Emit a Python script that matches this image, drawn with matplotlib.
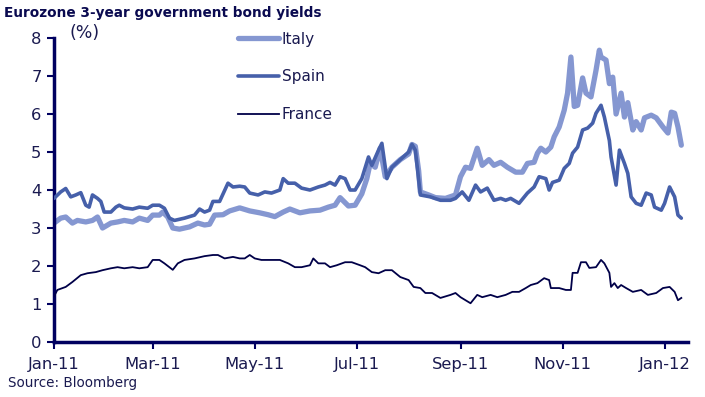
import matplotlib
matplotlib.use('Agg')
from matplotlib import pyplot as plt
import matplotlib.dates as mdates
import pandas as pd

# Italy 3y yields (%)
italy_dates = ['2011-01-01', '2011-01-05', '2011-01-08', '2011-01-12', '2011-01-15', '2011-01-20',
               '2011-01-24', '2011-01-27', '2011-01-30', '2011-02-04', '2011-02-08', '2011-02-12',
               '2011-02-17', '2011-02-21', '2011-02-26', '2011-03-01', '2011-03-05', '2011-03-07',
               '2011-03-10', '2011-03-13', '2011-03-17', '2011-03-23', '2011-03-28', '2011-04-01',
               '2011-04-04', '2011-04-07', '2011-04-12', '2011-04-16', '2011-04-22', '2011-04-28',
               '2011-05-04', '2011-05-09', '2011-05-13', '2011-05-18', '2011-05-22', '2011-05-28',
               '2011-06-03', '2011-06-09', '2011-06-14', '2011-06-18', '2011-06-21', '2011-06-26',
               '2011-06-30', '2011-07-04', '2011-07-07', '2011-07-09', '2011-07-12', '2011-07-15',
               '2011-07-18', '2011-07-22', '2011-07-27', '2011-08-01', '2011-08-03', '2011-08-05',
               '2011-08-07', '2011-08-08', '2011-08-13', '2011-08-17', '2011-08-23', '2011-08-29',
               '2011-09-01', '2011-09-04', '2011-09-07', '2011-09-11', '2011-09-14', '2011-09-18',
               '2011-09-21', '2011-09-25', '2011-09-29', '2011-10-04', '2011-10-08', '2011-10-11',
               '2011-10-15', '2011-10-17', '2011-10-19', '2011-10-22', '2011-10-25', '2011-10-27',
               '2011-10-30', '2011-11-02', '2011-11-04', '2011-11-06', '2011-11-08', '2011-11-10',
               '2011-11-13', '2011-11-15', '2011-11-18', '2011-11-21', '2011-11-23', '2011-11-24',
               '2011-11-27', '2011-11-29', '2011-12-01', '2011-12-03', '2011-12-06', '2011-12-08',
               '2011-12-10', '2011-12-13', '2011-12-15', '2011-12-18', '2011-12-20', '2011-12-24',
               '2011-12-27', '2011-12-31', '2012-01-03', '2012-01-05', '2012-01-07', '2012-01-09',
               '2012-01-11']
italy = [3.13, 3.26, 3.29, 3.13, 3.2, 3.16,
         3.2, 3.29, 3.0, 3.13, 3.16, 3.2,
         3.16, 3.26, 3.2, 3.34, 3.34, 3.42,
         3.29, 3.0, 2.97, 3.03, 3.13, 3.08,
         3.1, 3.34, 3.35, 3.45, 3.53, 3.45,
         3.4, 3.35, 3.3, 3.42, 3.5, 3.4,
         3.45, 3.47, 3.55, 3.6, 3.8, 3.58,
         3.6, 3.9, 4.3, 4.7, 4.6, 5.1,
         4.35, 4.6, 4.8, 4.95, 5.2, 5.15,
         4.5, 3.95, 3.87, 3.8, 3.78, 3.87,
         4.35, 4.6, 4.57, 5.1, 4.65, 4.8,
         4.65, 4.73, 4.6, 4.47, 4.47, 4.7,
         4.73, 4.97, 5.1, 5.0, 5.13, 5.4,
         5.66, 6.1, 6.55, 7.5, 6.2, 6.23,
         6.95, 6.55, 6.45, 7.15, 7.68, 7.5,
         7.42, 6.8, 6.97, 6.0, 6.55, 5.92,
         6.3, 5.58, 5.8, 5.58, 5.9, 5.97,
         5.9, 5.66, 5.5, 6.05, 6.02, 5.66,
         5.18]

# Spain 3y yields (%)
spain_dates = ['2011-01-01', '2011-01-05', '2011-01-08', '2011-01-11', '2011-01-14', '2011-01-17',
               '2011-01-20', '2011-01-22', '2011-01-24', '2011-01-27', '2011-01-29', '2011-01-31',
               '2011-02-04', '2011-02-07', '2011-02-09', '2011-02-12', '2011-02-17', '2011-02-21',
               '2011-02-26', '2011-03-01', '2011-03-05', '2011-03-08', '2011-03-11', '2011-03-14',
               '2011-03-20', '2011-03-26', '2011-03-29', '2011-04-01', '2011-04-04', '2011-04-06',
               '2011-04-10', '2011-04-15', '2011-04-18', '2011-04-22', '2011-04-25', '2011-04-28',
               '2011-05-03', '2011-05-07', '2011-05-11', '2011-05-16', '2011-05-18', '2011-05-21',
               '2011-05-25', '2011-05-29', '2011-06-03', '2011-06-08', '2011-06-12', '2011-06-15',
               '2011-06-18', '2011-06-21', '2011-06-24', '2011-06-27', '2011-06-30', '2011-07-04',
               '2011-07-08', '2011-07-10', '2011-07-14', '2011-07-16', '2011-07-19', '2011-07-22',
               '2011-07-27', '2011-08-01', '2011-08-03', '2011-08-05', '2011-08-08', '2011-08-14',
               '2011-08-20', '2011-08-26', '2011-08-29', '2011-09-02', '2011-09-06', '2011-09-10',
               '2011-09-13', '2011-09-17', '2011-09-21', '2011-09-25', '2011-09-28', '2011-10-01',
               '2011-10-06', '2011-10-11', '2011-10-15', '2011-10-18', '2011-10-22', '2011-10-24',
               '2011-10-26', '2011-10-30', '2011-11-02', '2011-11-05', '2011-11-07', '2011-11-10',
               '2011-11-13', '2011-11-16', '2011-11-19', '2011-11-21', '2011-11-24', '2011-11-26',
               '2011-11-29', '2011-11-30', '2011-12-03', '2011-12-05', '2011-12-08', '2011-12-10',
               '2011-12-12', '2011-12-15', '2011-12-18', '2011-12-21', '2011-12-24', '2011-12-26',
               '2011-12-30', '2012-01-01', '2012-01-04', '2012-01-07', '2012-01-09', '2012-01-11']
spain = [3.78, 3.95, 4.04, 3.82, 3.87, 3.93,
         3.6, 3.55, 3.87, 3.78, 3.7, 3.42,
         3.42, 3.55, 3.6, 3.53, 3.5, 3.55,
         3.52, 3.6, 3.6, 3.52, 3.26, 3.2,
         3.26, 3.34, 3.5, 3.42, 3.47, 3.7,
         3.7, 4.18, 4.08, 4.1, 4.08, 3.92,
         3.87, 3.95, 3.92, 4.0, 4.3, 4.18,
         4.18, 4.05, 4.0, 4.08, 4.13, 4.2,
         4.13, 4.35, 4.3, 4.0, 4.0, 4.3,
         4.87, 4.65, 5.05, 5.23, 4.3, 4.6,
         4.8, 5.0, 5.2, 5.05, 3.87, 3.82,
         3.73, 3.73, 3.78, 3.95, 3.73, 4.13,
         3.95, 4.05, 3.73, 3.78, 3.73, 3.78,
         3.65, 3.92, 4.08, 4.35, 4.3, 4.0,
         4.2, 4.26, 4.57, 4.7, 4.97, 5.13,
         5.58, 5.63, 5.76, 6.02, 6.23, 5.92,
         5.3, 4.87, 4.13, 5.05, 4.7, 4.44,
         3.82, 3.65, 3.6, 3.92, 3.87, 3.55,
         3.47, 3.65, 4.08, 3.82, 3.34, 3.26]

# France 3y yields (%)
france_dates = ['2011-01-01', '2011-01-03', '2011-01-08', '2011-01-12', '2011-01-17', '2011-01-21',
                '2011-01-26', '2011-01-30', '2011-02-04', '2011-02-08', '2011-02-12', '2011-02-17',
                '2011-02-21', '2011-02-26', '2011-03-01', '2011-03-05', '2011-03-08', '2011-03-13',
                '2011-03-16', '2011-03-20', '2011-03-26', '2011-04-01', '2011-04-06', '2011-04-09',
                '2011-04-13', '2011-04-18', '2011-04-22', '2011-04-25', '2011-04-28', '2011-05-01',
                '2011-05-05', '2011-05-10', '2011-05-16', '2011-05-21', '2011-05-25', '2011-05-29',
                '2011-06-03', '2011-06-05', '2011-06-08', '2011-06-12', '2011-06-15', '2011-06-19',
                '2011-06-24', '2011-06-28', '2011-07-03', '2011-07-06', '2011-07-10', '2011-07-14',
                '2011-07-18', '2011-07-22', '2011-07-27', '2011-08-01', '2011-08-04', '2011-08-08',
                '2011-08-11', '2011-08-15', '2011-08-20', '2011-08-26', '2011-08-29', '2011-09-01',
                '2011-09-04', '2011-09-07', '2011-09-11', '2011-09-14', '2011-09-19', '2011-09-23',
                '2011-09-28', '2011-10-02', '2011-10-06', '2011-10-10', '2011-10-13', '2011-10-17',
                '2011-10-21', '2011-10-24', '2011-10-25', '2011-10-30', '2011-11-03', '2011-11-06',
                '2011-11-07', '2011-11-10', '2011-11-12', '2011-11-15', '2011-11-17', '2011-11-21',
                '2011-11-24', '2011-11-26', '2011-11-29', '2011-11-30', '2011-12-02', '2011-12-04',
                '2011-12-06', '2011-12-09', '2011-12-13', '2011-12-18', '2011-12-22', '2011-12-27',
                '2011-12-31', '2012-01-04', '2012-01-07', '2012-01-09', '2012-01-11']
france = [1.2, 1.37, 1.45, 1.58, 1.76, 1.81,
          1.84, 1.89, 1.94, 1.97, 1.94, 1.97,
          1.94, 1.97, 2.16, 2.16, 2.07, 1.9,
          2.07, 2.16, 2.2, 2.26, 2.29, 2.29,
          2.2, 2.24, 2.2, 2.2, 2.29, 2.2,
          2.16, 2.16, 2.16, 2.07, 1.97, 1.97,
          2.02, 2.2, 2.07, 2.07, 1.97, 2.02,
          2.1, 2.1, 2.02, 1.97, 1.84, 1.81,
          1.89, 1.89, 1.71, 1.63, 1.45, 1.42,
          1.29, 1.29, 1.16, 1.24, 1.29, 1.18,
          1.1, 1.02, 1.24, 1.18, 1.24, 1.18,
          1.24, 1.32, 1.32, 1.42, 1.5, 1.55,
          1.68, 1.63, 1.42, 1.42, 1.37, 1.37,
          1.82, 1.82, 2.1, 2.1, 1.95, 1.97,
          2.16, 2.07, 1.82, 1.45, 1.55, 1.42,
          1.5, 1.42, 1.32, 1.37, 1.24, 1.29,
          1.42, 1.45, 1.32, 1.1, 1.16]

navy = '#000060'
text_col = '#1a1a50'

fig = plt.figure(figsize=(7.05, 3.97), dpi=100)
ax = fig.add_axes([0.0766, 0.1385, 0.8993, 0.7657])

ax.plot(pd.to_datetime(italy_dates), italy, color='#8597d1', lw=3.8, label='Italy',
        solid_joinstyle='round', solid_capstyle='round', zorder=2)
ax.plot(pd.to_datetime(spain_dates), spain, color='#4660aa', lw=2.6, label='Spain',
        solid_joinstyle='round', solid_capstyle='round', zorder=3)
ax.plot(pd.to_datetime(france_dates), france, color='#000048', lw=1.3, label='France',
        zorder=4)

ax.set_ylim(0, 8)
ax.set_xlim(pd.Timestamp('2011-01-01'), pd.Timestamp('2012-01-15'))
ax.set_yticks(range(0, 9))
ax.xaxis.set_major_locator(mdates.MonthLocator(bymonth=[1, 3, 5, 7, 9, 11]))
ax.xaxis.set_major_formatter(mdates.DateFormatter('%b-%y'))

for s in ['top', 'right']:
    ax.spines[s].set_visible(False)
for s in ['left', 'bottom']:
    ax.spines[s].set_color(navy)
    ax.spines[s].set_linewidth(2.5)
ax.tick_params(axis='both', colors=navy, width=1.5, length=5, labelsize=11.8,
               labelcolor=text_col, pad=4)
ax.tick_params(axis='x', pad=6)

ax.text(0.025, 1.016, '(%)', transform=ax.transAxes, fontsize=12.5, color=text_col,
        va='center', ha='left')

leg = ax.legend(loc='upper left', bbox_to_anchor=(0.268, 1.066), frameon=False,
                fontsize=11, handlelength=2.7, handletextpad=0.2, labelspacing=1.48)
for t in leg.get_texts():
    t.set_color(text_col)

fig.text(0.006, 0.968, 'Eurozone 3-year government bond yields', fontsize=9.8,
         fontweight='bold', color='#0a0a50', va='center', ha='left')
fig.text(0.011, 0.035, 'Source: Bloomberg', fontsize=9.75, color=text_col,
         va='center', ha='left')

fig.savefig('out.png', dpi=100)
